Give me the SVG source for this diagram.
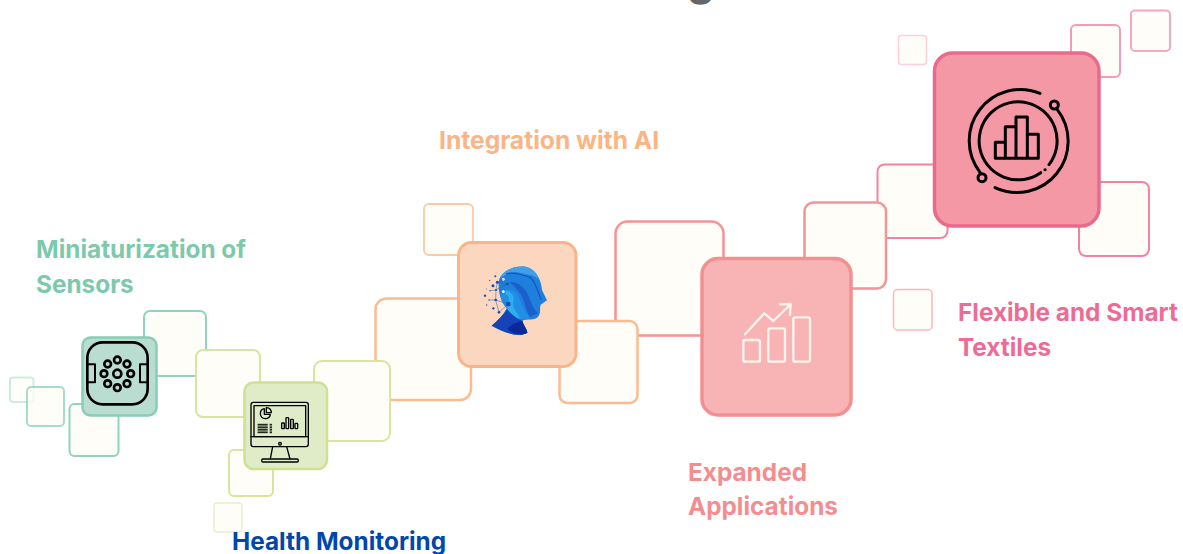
<svg xmlns="http://www.w3.org/2000/svg" width="1183" height="554" viewBox="0 0 1183 554">
<style>
text{font-family:"Inter","Liberation Sans",sans-serif;font-weight:700;font-size:24.350px}
.s{fill:#FFFDF7}
.ic{fill:none;stroke:#000;stroke-linecap:round;stroke-linejoin:round}
.gs{stroke:#8FD5BE;stroke-width:2}
.ls{stroke:#D6E69E;stroke-width:2}
.os{stroke:#FDBB90;stroke-width:2.5}
.rs{stroke:#F59396;stroke-width:2.5}
.ps{stroke:#F284A2;stroke-width:2}
</style>
<rect width="1183" height="554" fill="#fff"/>
<text id="title-fragment" x="687" y="-5" style="font-size:44px" fill="#666">g</text>

<g id="node-flexible-textiles">
<rect class="s" x="898.500" y="35.500" width="28" height="29" rx="3" stroke="#FBD0D8" stroke-width="1.500"/>
<rect class="s ps" x="1071" y="25" width="49" height="52" rx="5" opacity=".8"/>
<rect class="s ps" x="1131" y="10.500" width="39" height="40.500" rx="4" opacity=".7"/>
<rect class="s ps" x="877.500" y="164.500" width="70" height="73.500" rx="7"/>
<rect class="s ps" x="1079" y="182" width="70" height="74" rx="7"/>
<rect x="934.500" y="53" width="164.500" height="173" rx="18" fill="#F498A5" stroke="#E96A8D" stroke-width="3.500"/>
<g transform="translate(950 85) scale(.3333)" class="ic" stroke-width="9">
<path d="M270 25A154 154 0 0 0 90 262"/><circle cx="96" cy="278" r="12"/>
<path d="M135 308A154 154 0 0 0 322 74"/><circle cx="313" cy="60" r="12"/>
<path d="M272 263A117 117 0 1 1 297 239"/>
<path d="M285 254h.5"/>
<path d="M136 220V172H166V220M166 172V125H198V220M198 125V96H232V220M232 148H265V220H136"/>
</g>
</g>

<g id="node-expanded-applications">
<rect class="s" x="893.500" y="289.500" width="38.500" height="40.500" rx="4" stroke="#F9B9BC" stroke-width="1.500"/>
<rect class="s rs" x="804.500" y="202.500" width="81.500" height="86" rx="9"/>
<rect class="s rs" x="615.500" y="221.500" width="108" height="114" rx="12"/>
<rect x="702" y="258.500" width="149" height="156.500" rx="16" fill="#F8B4B4" stroke="#F48F90" stroke-width="3.500"/>
<g transform="translate(730 290) scale(.3333)" fill="none" stroke="#FFF5EE" stroke-width="7" stroke-linecap="round" stroke-linejoin="round">
<rect x="40" y="150" width="50" height="65" rx="6"/>
<rect x="115" y="115" width="50" height="100" rx="6"/>
<rect x="190" y="82" width="50" height="133" rx="6"/>
<path d="M45 133L103 70L130 93L180 45M150 43L182 42L180 75"/>
</g>
</g>

<g id="node-integration-ai">
<rect class="s" x="424" y="204" width="49" height="51" rx="5" stroke="#FCC9A6" stroke-width="1.800"/>
<rect class="s os" x="375.500" y="298.500" width="95.500" height="101.500" rx="11"/>
<rect class="s os" x="559.500" y="321" width="78" height="82" rx="8"/>
<rect x="458.500" y="242.500" width="117.500" height="124" rx="13" fill="#FBD7C0" stroke="#FDB388" stroke-width="3"/>
<g transform="translate(470 250) scale(.3333)">
<path d="M88 88C100 55 150 42 178 54C202 65 214 95 216 120L231 151L212 164C208 176 214 190 204 200C195 212 170 205 157 212C160 225 172 240 172 248C150 262 110 252 65 227C85 210 100 195 110 175C88 150 82 110 88 88Z" fill="#1F7FDD"/>
<path d="M88 88C100 55 150 42 178 54C192 61 202 72 208 88C190 72 170 74 150 68C130 62 110 68 88 88Z" fill="#3F9FE8"/>
<path d="M108 72C135 62 160 78 180 82C195 90 205 130 214 150" fill="none" stroke="#1152BE" stroke-width="3.500"/>
<path d="M118 96C150 92 175 125 180 150C186 165 192 180 205 190L180 200C165 180 165 150 150 130C140 115 130 105 118 96Z" fill="#1A5FCB"/>
<path d="M95 125C120 110 145 125 150 150C155 170 170 190 180 203C160 210 150 205 135 210L110 175C90 150 90 140 95 125Z" fill="#2190E4"/>
<path d="M100 122C120 120 135 135 130 155C125 170 140 185 150 205C130 205 118 195 112 175C110 160 122 150 115 138C110 130 100 135 100 122Z" fill="#2FAEEF"/>
<path d="M65 227C85 210 100 195 112 178C125 195 140 205 157 212C160 225 172 240 172 248C150 262 110 252 65 227Z" fill="#1543B8"/>
<path d="M112 236C125 222 145 215 157 213C160 225 172 240 172 248C155 258 130 254 112 236Z" fill="#0B2A9A"/>
<circle cx="100" cy="88" r="6" fill="#E8F6FF" stroke="#1A6FD8" stroke-width="3"/>
<circle cx="100" cy="125" r="6" fill="#E8F6FF" stroke="#1A6FD8" stroke-width="3"/>
<g fill="none" stroke="#2A5AAE" stroke-width="1.500">
<path d="M82 97L78 120L77 150L87 187L115 162L77 150M82 97L112 102L78 120L60 122M82 97L100 88M77 150L57 150"/>
</g>
<g fill="#1B4BAE">
<circle cx="82" cy="97" r="4.500"/><circle cx="69" cy="107" r="4.500"/><circle cx="112" cy="102" r="4"/><circle cx="78" cy="120" r="3"/><circle cx="60" cy="122" r="2"/>
<circle cx="45" cy="137" r="3.500"/><circle cx="77" cy="150" r="4"/><circle cx="57" cy="150" r="2"/><circle cx="115" cy="162" r="7"/><circle cx="70" cy="175" r="3.500"/><circle cx="87" cy="187" r="4"/>
<circle cx="50" cy="165" r="2"/><circle cx="76" cy="79" r="3"/><circle cx="59" cy="91" r="2"/><circle cx="49" cy="117" r="1.500"/>
</g>
</g>
</g>

<g id="node-miniaturization">
<rect class="s gs" x="10" y="377.500" width="23.500" height="24.500" rx="3" opacity=".45"/>
<rect class="s gs" x="27" y="387" width="37" height="39" rx="4" opacity=".8"/>
<rect class="s gs" x="69.500" y="404" width="49" height="52" rx="5"/>
<rect class="s gs" x="144" y="311" width="62" height="65" rx="6"/>
<rect x="82.500" y="337.500" width="74" height="78" rx="8" fill="#B9DDD0" stroke="#88CDB5" stroke-width="2.500"/>
<g transform="translate(80 335) scale(.3333)" class="ic" stroke-width="8">
<rect x="22" y="22" width="181" height="186" rx="46"/>
<path d="M22 88H45V142H22M203 88H180V142H203" stroke-width="6"/>
<circle cx="112" cy="116" r="12"/>
<circle cx="112" cy="75" r="10"/><circle cx="141" cy="87" r="10"/><circle cx="152" cy="116" r="10"/><circle cx="141" cy="146" r="10"/>
<circle cx="112" cy="158" r="10"/><circle cx="83" cy="146" r="10"/><circle cx="72" cy="116" r="10"/><circle cx="83" cy="87" r="10"/>
</g>
</g>

<g id="node-health-monitoring">
<rect class="s" x="214" y="503" width="28" height="29" rx="3" stroke="#EAF0CC" stroke-width="1.500"/>
<rect class="s ls" x="229" y="450" width="44" height="46" rx="5"/>
<rect class="s ls" x="196" y="350" width="64" height="67" rx="7"/>
<rect class="s ls" x="314" y="361" width="76" height="80" rx="8"/>
<rect x="244.500" y="382.500" width="82.500" height="86.500" rx="9" fill="#E0ECC8" stroke="#CFE08F" stroke-width="2.500"/>
<g transform="translate(240 385) scale(.3333)" class="ic" stroke="#222" stroke-width="4">
<rect x="33" y="52" width="172" height="133" rx="7"/>
<rect x="42" y="62" width="155" height="93"/>
<path d="M33 155H205"/>
<path d="M98 185L91 222M140 185L150 222"/>
<rect x="65" y="222" width="110" height="9" rx="4"/>
<circle cx="120" cy="176" r="4"/>
<path d="M73 71A15 15 0 1 0 91 88H73Z"/>
<path d="M79 68A14 14 0 0 1 94 83H79Z"/>
<path d="M54 118H82M54 123H82M54 128H82M54 133H82M54 138H82M54 143H82" stroke-width="3"/>
<path d="M90 118H95M90 123H95M90 128H95M90 133H95M90 138H95M90 143H95" stroke-width="3"/>
<rect x="125" y="114" width="8" height="17" rx="2"/>
<rect x="138" y="98" width="8" height="33" rx="2"/>
<rect x="152" y="103" width="8" height="28" rx="2"/>
<rect x="165" y="115" width="8" height="16" rx="2"/>
</g>
</g>

<text x="36" y="257.700" fill="#7CC9AB">Miniaturization of</text>
<text x="36" y="292.700" fill="#7CC9AB">Sensors</text>
<text x="232" y="550.300" fill="#0047AB">Health Monitoring</text>
<text x="439" y="148.500" fill="#FBB584" style="font-size:24.600px">Integration with AI</text>
<text x="688" y="481" fill="#F48D8F">Expanded</text>
<text x="688" y="515" fill="#F48D8F">Applications</text>
<text x="958" y="321.300" fill="#EE6B95">Flexible and Smart</text>
<text x="958" y="355.500" fill="#EE6B95">Textiles</text>
</svg>
